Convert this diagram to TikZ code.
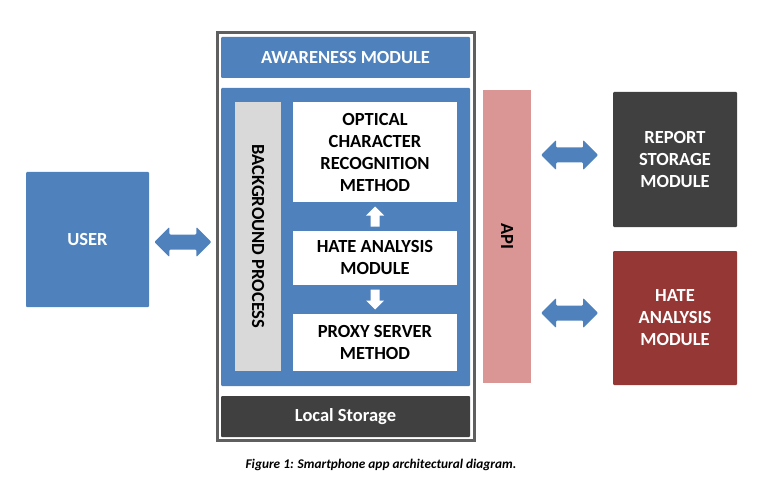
\documentclass[tikz,border=0pt]{standalone}
\usepackage{fontspec}
\setmainfont{Carlito}
\usetikzlibrary{calc}
\definecolor{modblue}{HTML}{4F81BD}
\definecolor{darkbox}{HTML}{404040}
\definecolor{bggray}{HTML}{D9D9D9}
\definecolor{apipink}{HTML}{D99694}
\definecolor{hatered}{HTML}{953735}
\definecolor{framegray}{HTML}{5F5F5F}
\tikzset{
  lbl/.style={font=\fontsize{18.5}{22}\selectfont\bfseries},
  box/.style={rectangle, inner sep=0pt, rounded corners=1pt, align=center, lbl},
  whitetxt/.style={text=white},
  dbl/.pic={\fill[modblue, rounded corners=1pt] (-28.5,0) -- (-13.5,-15) -- (-13.5,-7.5) -- (13.5,-7.5) -- (13.5,-15) -- (28.5,0) -- (13.5,15) -- (13.5,7.5) -- (-13.5,7.5) -- (-13.5,15) -- cycle;},
  uparr/.pic={\fill[white] (0,-10) -- (9,-1) -- (4.5,-1) -- (4.5,10) -- (-4.5,10) -- (-4.5,-1) -- (-9,-1) -- cycle;},
  downarr/.pic={\fill[white] (0,10) -- (9,1) -- (4.5,1) -- (4.5,-10) -- (-4.5,-10) -- (-4.5,1) -- (-9,1) -- cycle;}
}
\begin{document}
\begin{tikzpicture}[x=1pt,y=-1pt]
\useasboundingbox (0,0) rectangle (765,497);
% outer frame
\node[rectangle, draw=framegray, line width=2.2pt, minimum width=257pt, minimum height=408pt, inner sep=0pt] (frame) at (346,236.5) {};
\node[box, whitetxt, fill=modblue, minimum width=249pt, minimum height=41pt] (aware) at (345.5,57.5) {AWARENESS MODULE};
\node[box, fill=modblue, minimum width=249pt, minimum height=298pt] (inner) at (345.5,237) {};
\node[box, fill=bggray, rounded corners=0pt, minimum width=46pt, minimum height=269pt] (bg) at (258,236.5) {};
\node[lbl, rotate=-90] (bgtext) at (bg.center) {BACKGROUND PROCESS};
\node[box, fill=white, rounded corners=0pt, minimum width=164pt, minimum height=100pt] (ocr) at (375,152) {OPTICAL\\CHARACTER\\RECOGNITION\\METHOD};
\node[box, fill=white, rounded corners=0pt, minimum width=164pt, minimum height=54pt] (hate) at (375,258) {HATE ANALYSIS\\MODULE};
\node[box, fill=white, rounded corners=0pt, minimum width=164pt, minimum height=57pt] (proxy) at (375,342.5) {PROXY SERVER\\METHOD};
\pic at ($(ocr.south)!0.5!(hate.north)$) {uparr};
\pic at ($(hate.south)!0.5!(proxy.north)$) {downarr};
\node[box, whitetxt, fill=darkbox, minimum width=249pt, minimum height=41pt] (local) at (345.5,416.5) {Local Storage};
% user
\node[box, whitetxt, fill=modblue, minimum width=123pt, minimum height=135pt] (user) at (87.5,239.5) {USER};
\pic at ($(user.east|-0,242)!0.5!(frame.west|-0,242)$) {dbl};
% api
\node[box, fill=apipink, rounded corners=0pt, minimum width=48pt, minimum height=293pt] (api) at (507,236.5) {};
\node[lbl, rotate=-90] (apitext) at (api.center) {API};
\node[box, whitetxt, fill=darkbox, minimum width=124pt, minimum height=135pt] (report) at (675,159.5) {REPORT\\STORAGE\\MODULE};
\node[box, whitetxt, fill=hatered, minimum width=124pt, minimum height=134pt] (hater) at (675,318) {HATE\\ANALYSIS\\MODULE};
\pic at ($(api.east|-0,155)!0.47!(report.west|-0,155)$) {dbl};
\pic at ($(api.east|-0,313)!0.47!(hater.west|-0,313)$) {dbl};
% caption
\node[font=\fontsize{13.3}{15}\selectfont\bfseries\itshape] (caption) at (381,465) {Figure 1: Smartphone app architectural diagram.};
\end{tikzpicture}
\end{document}
